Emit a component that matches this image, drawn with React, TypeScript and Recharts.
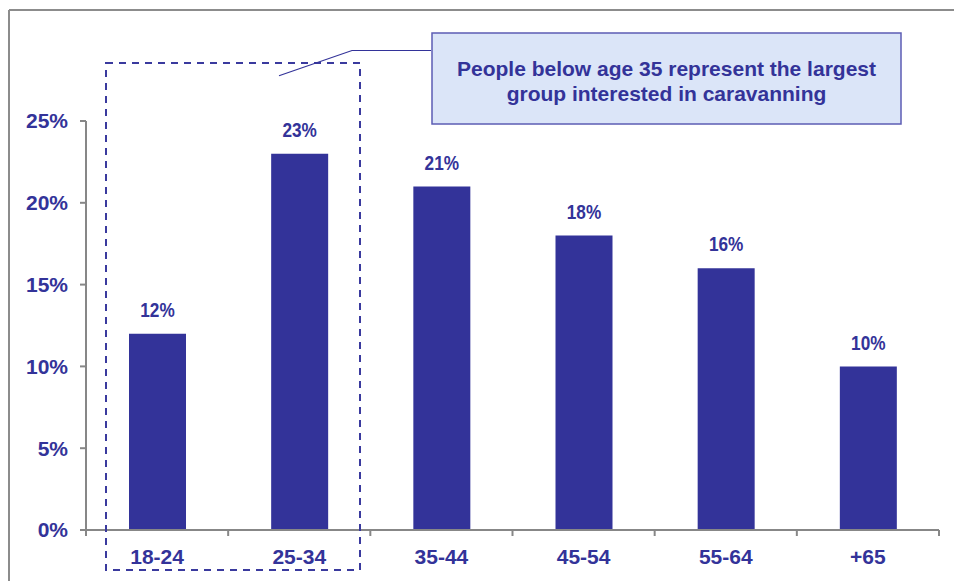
import React from "react";
import { BarChart, Bar, XAxis, YAxis, LabelList } from "recharts";

const ageGroups = ["18-24", "25-34", "35-44", "45-54", "55-64", "+65"];
const sharePercent = [12, 23, 21, 18, 16, 10];
const yTicks = [0, 5, 10, 15, 20, 25];

const data = ageGroups.map((group, i) => ({ group, share: sharePercent[i] }));

const NAVY = "#333399";
const AXIS_GREY = "#878787";
const FONT = "'Liberation Sans', Arial, sans-serif";

const WIDTH = 954;
const HEIGHT = 581;
const X_AXIS_HEIGHT = 30;
const MARGIN = { top: 121, right: 15, bottom: 51 - X_AXIS_HEIGHT, left: 0 };
const Y_AXIS_WIDTH = 86;
const PLOT_WIDTH = WIDTH - MARGIN.left - MARGIN.right - Y_AXIS_WIDTH;
const BAND = PLOT_WIDTH / ageGroups.length;

// category label centred in its band, tick marks on the band edges
const AgeTick = (props: any) => {
  const { x, y, payload, index } = props;
  const left = x - BAND / 2;
  const right = x + BAND / 2;
  return (
    <g>
      <line x1={left} y1={y} x2={left} y2={y + 6} stroke={AXIS_GREY} strokeWidth={2} />
      {index === ageGroups.length - 1 && (
        <line x1={right} y1={y} x2={right} y2={y + 6} stroke={AXIS_GREY} strokeWidth={2} />
      )}
      <text
        x={x}
        y={y + 26}
        textAnchor="middle"
        dominantBaseline="central"
        fill={NAVY}
        fontFamily={FONT}
        fontWeight={700}
        fontSize={21}
      >
        {payload.value}
      </text>
    </g>
  );
};

// value above each bar, set slightly condensed
const ValueLabel = (props: any) => {
  const { x, y, width, value } = props;
  return (
    <text
      transform={`translate(${x + width / 2}, ${y - 24}) scale(0.82, 1)`}
      textAnchor="middle"
      dominantBaseline="central"
      fill={NAVY}
      fontFamily={FONT}
      fontWeight={700}
      fontSize={21}
    >
      {`${value}%`}
    </text>
  );
};

const App = () => {
  return (
    <div
      style={{
        position: "relative",
        width: WIDTH,
        height: HEIGHT,
        overflow: "hidden",
        background: "#fff",
      }}
    >
      <style>{"html, body { margin: 0; overflow: hidden; background: #fff; }"}</style>
      <BarChart width={WIDTH} height={HEIGHT} data={data} margin={MARGIN}>
        <XAxis
          dataKey="group"
          height={X_AXIS_HEIGHT}
          axisLine={{ stroke: AXIS_GREY, strokeWidth: 2 }}
          tickLine={false}
          tickSize={0}
          tickMargin={0}
          tick={<AgeTick />}
          interval={0}
        />
        <YAxis
          width={Y_AXIS_WIDTH}
          domain={[0, 25]}
          ticks={yTicks}
          interval={0}
          tickFormatter={(v) => `${v}%`}
          axisLine={{ stroke: AXIS_GREY, strokeWidth: 2 }}
          tickLine={{ stroke: AXIS_GREY, strokeWidth: 2 }}
          tickSize={6}
          tickMargin={12}
          tick={{ fill: NAVY, fontFamily: FONT, fontWeight: 700, fontSize: 21 }}
        />
        <Bar dataKey="share" fill={NAVY} barSize={57} isAnimationActive={false}>
          <LabelList dataKey="share" content={<ValueLabel />} />
        </Bar>
      </BarChart>

      {/* frame, highlight box and callout */}
      <svg
        width={WIDTH}
        height={HEIGHT}
        style={{ position: "absolute", left: 0, top: 0, pointerEvents: "none" }}
      >
        <line x1={9} y1={10} x2={WIDTH} y2={10} stroke="#8c8c8c" strokeWidth={2} />
        <line x1={9} y1={10} x2={9} y2={HEIGHT} stroke="#8c8c8c" strokeWidth={2} />

        <rect
          x={106}
          y={63}
          width={254}
          height={507}
          fill="none"
          stroke="#3a3a9e"
          strokeWidth={2}
          strokeDasharray="7 6"
        />

        <polyline
          points="431,50.5 352,50.5 279,75.7"
          fill="none"
          stroke={NAVY}
          strokeWidth={1.2}
        />
        <rect x={432} y={33} width={469} height={91} fill="#dbe5f8" stroke="#5c5cb4" strokeWidth={1.5} />
        <text textAnchor="middle" fill={NAVY} fontFamily={FONT} fontWeight={700} fontSize={21}>
          <tspan x={666.5} y={68} dominantBaseline="central">
            People below age 35 represent the largest
          </tspan>
          <tspan x={666.5} y={93} dominantBaseline="central">
            group interested in caravanning
          </tspan>
        </text>
      </svg>
    </div>
  );
};

export default App;
